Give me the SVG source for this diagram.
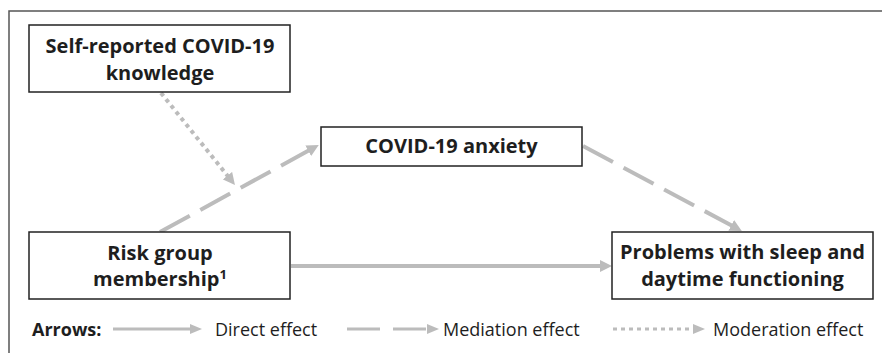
<svg xmlns="http://www.w3.org/2000/svg" width="882" height="353" viewBox="0 0 882 353">
<style>
.box{fill:#fff;stroke:#222;stroke-width:1.5}
.t{font-family:"Open Sans","Liberation Sans",sans-serif;font-weight:bold;font-size:20px;fill:#1e1e1e;text-anchor:middle}
.lg{font-family:"Open Sans","Liberation Sans",sans-serif;font-size:18px;fill:#1e1e1e}
.a{fill:none;stroke:#bcbcbc;stroke-width:4}
.al{fill:none;stroke:#bcbcbc;stroke-width:3}
</style>
<defs>
<marker id="ah" viewBox="0 0 12 12" refX="2" refY="6" markerWidth="12" markerHeight="12" markerUnits="userSpaceOnUse" orient="auto"><path d="M0,0 L12,6 L0,12 z" fill="#bcbcbc"/></marker>
<marker id="ahs" viewBox="0 0 12 10" refX="2" refY="5" markerWidth="12" markerHeight="10" markerUnits="userSpaceOnUse" orient="auto"><path d="M0,0 L12,5 L0,10 z" fill="#bcbcbc"/></marker>
</defs>
<path d="M9,353 V11 H882" fill="none" stroke="#555" stroke-width="1.5"/>
<g id="connectors">
<line class="a" x1="291" y1="266" x2="602" y2="266" marker-end="url(#ah)"/>
<line class="a" x1="160" y1="232" x2="310" y2="149.8" stroke-dasharray="34 12" marker-end="url(#ah)"/>
<line class="a" x1="583" y1="146" x2="733" y2="226.3" stroke-dasharray="34 12" marker-end="url(#ah)"/>
<line class="a" x1="161" y1="93" x2="228.7" y2="177.2" stroke-dasharray="4 4" marker-end="url(#ah)"/>
</g>
<g id="n-knowledge">
<rect class="box" x="29" y="25" width="261" height="67"/>
<text class="t" x="160" y="53">Self-reported COVID-19</text>
<text class="t" x="160" y="80">knowledge</text>
</g>
<g id="n-anxiety">
<rect class="box" x="321" y="127" width="261" height="39"/>
<text class="t" x="451.5" y="153">COVID-19 anxiety</text>
</g>
<g id="n-risk">
<rect class="box" x="29" y="232" width="261" height="67"/>
<text class="t" x="160" y="260">Risk group</text>
<text class="t" x="160" y="286">membership<tspan font-size="13" dy="-7">1</tspan></text>
</g>
<g id="n-problems">
<rect class="box" x="612" y="232" width="261" height="67"/>
<text class="t" x="742.5" y="259">Problems with sleep and</text>
<text class="t" x="742.5" y="286">daytime functioning</text>
</g>
<g id="legend">
<text class="lg" x="32" y="336" font-weight="bold">Arrows:</text>
<line class="al" x1="113" y1="329" x2="192" y2="329" marker-end="url(#ahs)"/>
<text class="lg" x="215" y="336">Direct effect</text>
<line class="al" x1="347" y1="329" x2="429" y2="329" stroke-dasharray="33 13" marker-end="url(#ahs)"/>
<text class="lg" x="443" y="336">Mediation effect</text>
<line class="al" x1="613" y1="329" x2="695" y2="329" stroke-dasharray="4 4" marker-end="url(#ahs)"/>
<text class="lg" x="713" y="336">Moderation effect</text>
</g>
</svg>
